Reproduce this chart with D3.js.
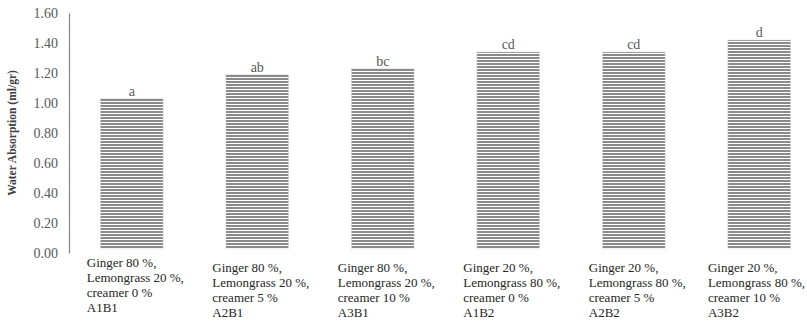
<!DOCTYPE html>
<html>
<head>
<meta charset="utf-8">
<script src="https://cdnjs.cloudflare.com/ajax/libs/d3/7.8.5/d3.min.js"></script>
<style>
  body { margin: 0; background: #fff; }
  svg text { font-family: "Liberation Serif", "Times New Roman", "DejaVu Serif", serif; }
</style>
</head>
<body>
<div id="chart"></div>
<script>
// Treatments on the x axis
const codes = ['A1B1', 'A2B1', 'A3B1', 'A1B2', 'A2B2', 'A3B2'];
const gingerLines = ['Ginger 80 %,', 'Ginger 80 %,', 'Ginger 80 %,', 'Ginger 20 %,', 'Ginger 20 %,', 'Ginger 20 %,'];
const lemongrassLines = ['Lemongrass 20 %,', 'Lemongrass 20 %,', 'Lemongrass 20 %,', 'Lemongrass 80 %,', 'Lemongrass 80 %,', 'Lemongrass 80 %,'];
const creamerLines = ['creamer 0 %', 'creamer 5 %', 'creamer 10 %', 'creamer 0 %', 'creamer 5 %', 'creamer  10 %'];
// Water absorption (ml/gr)
const values = [1.03, 1.19, 1.23, 1.34, 1.34, 1.42];
// significance letters
const letters = ['a', 'ab', 'bc', 'cd', 'cd', 'd'];
const yTicks = [0, 0.2, 0.4, 0.6, 0.8, 1.0, 1.2, 1.4, 1.6];

const width = 807, height = 322;
const serif = '"Liberation Serif", "Times New Roman", "DejaVu Serif", serif';
const svg = d3.select('#chart').append('svg')
    .attr('width', width)
    .attr('height', height)
    .attr('font-family', serif);

// striped fill like the original
const defs = svg.append('defs');
const pat = defs.append('pattern')
    .attr('id', 'stripes')
    .attr('patternUnits', 'userSpaceOnUse')
    .attr('width', 8)
    .attr('height', 3);
pat.append('rect').attr('width', 8).attr('height', 3).attr('fill', '#ffffff');
pat.append('rect').attr('width', 8).attr('height', 2).attr('fill', '#8a8a8a');

const x = d3.scaleBand()
    .domain(codes)
    .range([69, 822])
    .paddingInner(0.5)
    .paddingOuter(0.25);

const y = d3.scaleLinear()
    .domain([0, 1.6])
    .range([253, 13]);

// y axis
const yAxis = d3.axisLeft(y)
    .tickValues(yTicks)
    .tickSize(0)
    .tickPadding(11)
    .tickFormat(d3.format('.2f'));

const gy = svg.append('g')
    .attr('transform', 'translate(69,0)')
    .call(yAxis)
    .attr('font-family', serif);
gy.select('.domain').attr('stroke', '#8c8c8c').attr('stroke-width', 1.3);
gy.selectAll('text')
    .attr('fill', '#595959')
    .attr('font-size', '14px');

svg.append('text')
    .attr('transform', `translate(16,${(y(0) + y(1.6)) / 2}) rotate(-90)`)
    .attr('text-anchor', 'middle')
    .attr('font-size', '11.5px')
    .attr('font-weight', 'bold')
    .attr('fill', '#404040')
    .text('Water Absorption (ml/gr)');

// bars
svg.append('g').selectAll('rect')
    .data(values)
    .enter()
    .append('rect')
    .attr('x', (d, i) => x(codes[i]))
    .attr('y', d => y(d))
    .attr('width', x.bandwidth())
    .attr('height', d => y(0) - y(d) - 4)
    .attr('fill', 'url(#stripes)')
    .attr('stroke', '#d9d9d9')
    .attr('stroke-width', 0.5);

// letters above bars
svg.append('g').selectAll('text')
    .data(letters)
    .enter()
    .append('text')
    .attr('x', (d, i) => x(codes[i]) + x.bandwidth() / 2)
    .attr('y', (d, i) => y(values[i]) - 3)
    .attr('text-anchor', 'middle')
    .attr('font-size', '14px')
    .attr('fill', '#595959')
    .text(d => d);

// category labels (four lines each), kept inside the right edge
const labelGroup = svg.append('g');
codes.forEach((c, i) => {
    const lines = [gingerLines[i], lemongrassLines[i], creamerLines[i], c];
    const x0 = x(c) + x.bandwidth() / 2 - 45;
    const t = labelGroup.append('text')
        .attr('y', i === 0 ? 267 : 272)
        .attr('font-size', '13px')
        .attr('fill', '#262626');
    const spans = lines.map((l, k) => t.append('tspan')
        .attr('x', x0)
        .attr('dy', k === 0 ? 0 : 15)
        .text(l));
    const w = t.node().getBBox().width;
    const lx = Math.min(x0, width - 2 - w);
    spans.forEach(s => s.attr('x', lx));
});
</script>
</body>
</html>
